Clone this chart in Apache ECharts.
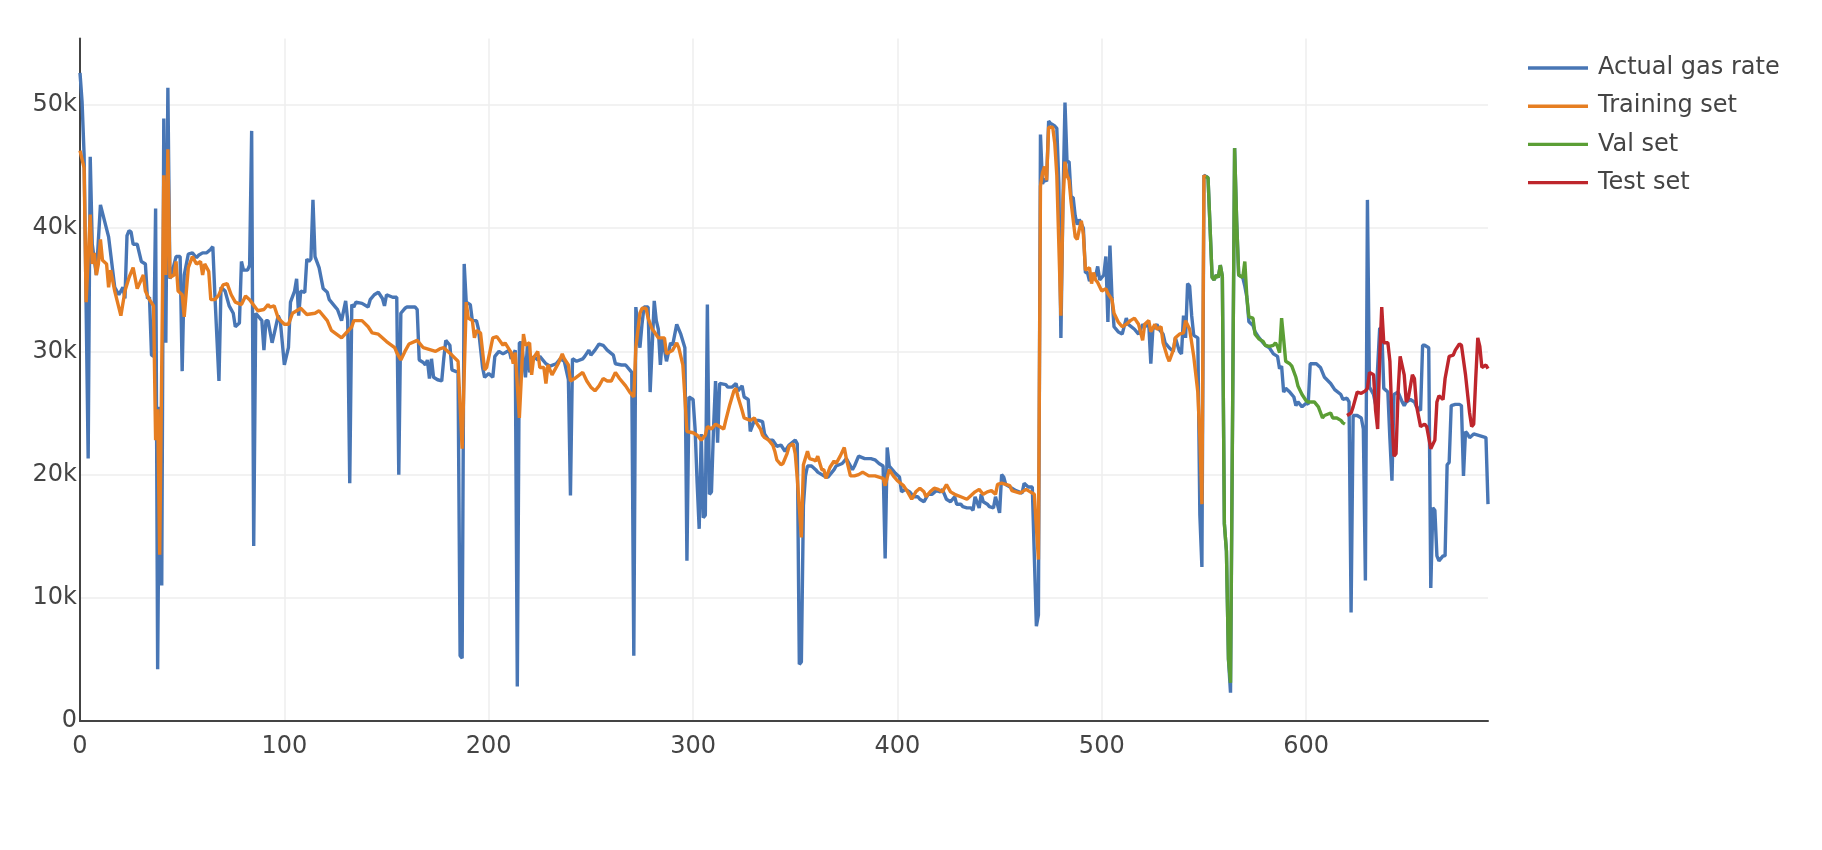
<!DOCTYPE html>
<html>
<head>
<meta charset="utf-8">
<script src="https://cdn.jsdelivr.net/npm/echarts@6/dist/echarts.min.js"></script>
<style>html,body{margin:0;padding:0;background:#fff;}#c{width:1822px;height:850px;}</style>
</head>
<body>
<div id="c"></div>
<script>
const seriesNames = ['Actual gas rate', 'Training set', 'Val set', 'Test set'];
const xTicks = [0, 100, 200, 300, 400, 500, 600];
const yTicks = [0, 10000, 20000, 30000, 40000, 50000];

const actualGas = [[0,52600],[1,50300],[2,46000],[4,21300],[5,45800],[6,38700],[8,36200],[10,41900],[14,39300],[17,35200],[19,34600],[21,35200],[22,34300],[23,39400],[24,39800],[25,39700],[26,38700],[28,38700],[30,37300],[32,37100],[33,34300],[34,34400],[35,29700],[36,29600],[37,41600],[38,4200],[39,25500],[40,11000],[41,48900],[42,30700],[43,51400],[44,35900],[45,36400],[47,37700],[49,37700],[50,28400],[51,36200],[53,37900],[55,38000],[57,37600],[58,37800],[60,38000],[62,38000],[64,38300],[65,38500],[66,34600],[68,27600],[69,35200],[71,34900],[73,33700],[75,33100],[76,32000],[78,32300],[79,37300],[80,36600],[82,36600],[83,37000],[84,47900],[85,14200],[86,33100],[89,32500],[90,30100],[91,32500],[92,32500],[94,30700],[95,31400],[97,32900],[98,32500],[100,28900],[102,30300],[103,34000],[105,34900],[106,35900],[107,32900],[108,34900],[110,34800],[111,37500],[112,37300],[113,37500],[114,42300],[115,37700],[117,36800],[119,35100],[121,34800],[122,34200],[123,34000],[125,33600],[126,33400],[128,32500],[130,34100],[131,32500],[132,19300],[133,33800],[134,33600],[135,34000],[138,33900],[141,33600],[142,34200],[144,34600],[146,34800],[148,34300],[149,33700],[150,34600],[153,34400],[155,34400],[156,20000],[157,33100],[159,33500],[160,33600],[164,33600],[165,33400],[166,29300],[168,29100],[169,28900],[170,29300],[171,27800],[172,29400],[173,27900],[175,27700],[177,27600],[178,29400],[179,30900],[181,30500],[182,28500],[185,28300],[186,5300],[187,5100],[188,37100],[189,34000],[191,33800],[192,32500],[194,32500],[195,31800],[197,28700],[198,27900],[200,28200],[202,27900],[203,29600],[205,30000],[207,29800],[210,30100],[211,29400],[213,30100],[214,2800],[215,30700],[216,30700],[218,27900],[219,30700],[220,28300],[222,29600],[224,29300],[225,29600],[228,29000],[230,28800],[233,29000],[235,29400],[237,29200],[239,27700],[240,18300],[241,29400],[243,29200],[246,29400],[247,29600],[249,30100],[250,29700],[252,30100],[254,30600],[256,30500],[258,30100],[261,29700],[262,29000],[265,28900],[267,28900],[269,28500],[270,28300],[271,5300],[272,33600],[274,30300],[275,32200],[276,33600],[278,33600],[279,26700],[281,34100],[282,32500],[283,31800],[284,28900],[285,31100],[287,29200],[289,30700],[290,30500],[292,32200],[294,31400],[296,30300],[297,13000],[298,26300],[300,26100],[301,23700],[302,19300],[303,15600],[304,23300],[305,16500],[306,16700],[307,33800],[308,18400],[309,18600],[310,23700],[311,27600],[312,22600],[313,27400],[316,27300],[317,27100],[319,27100],[321,27400],[322,26800],[324,27200],[325,26300],[327,26100],[328,23500],[330,24400],[332,24400],[334,24300],[335,23300],[337,22800],[339,22800],[341,22300],[343,22400],[345,21900],[347,22400],[350,22800],[351,22500],[352,4600],[353,4800],[354,17500],[355,19900],[356,20700],[358,20700],[360,20400],[361,20200],[363,20000],[365,19800],[366,19800],[369,20400],[370,20700],[373,20900],[375,21300],[378,20400],[379,20700],[381,21500],[384,21300],[387,21300],[389,21200],[391,20900],[393,20700],[394,13200],[395,22200],[396,20700],[398,20300],[399,20100],[401,19800],[402,18600],[404,18800],[406,18600],[408,18200],[410,18200],[411,18000],[413,17800],[415,18400],[417,18400],[419,18700],[421,18600],[422,18800],[424,18000],[426,17800],[428,18200],[429,17600],[431,17600],[432,17400],[434,17300],[436,17300],[437,17100],[438,18200],[440,17300],[441,18400],[442,17800],[444,17600],[445,17400],[447,17300],[448,18200],[450,16900],[451,20000],[452,19800],[453,19200],[456,18900],[458,18700],[461,18500],[462,19300],[464,19000],[466,19000],[468,7700],[469,8600],[470,47600],[471,43600],[472,44000],[473,43800],[474,48700],[475,48500],[477,48300],[478,48100],[479,43600],[480,31100],[481,42100],[482,50200],[483,45400],[484,45400],[485,42500],[486,42500],[487,41000],[488,40300],[489,40700],[491,40000],[492,36400],[493,36400],[494,35700],[495,36100],[497,36100],[498,36900],[499,35800],[501,36200],[502,37700],[503,32400],[504,38600],[505,34400],[506,32000],[508,31600],[510,31400],[512,32700],[513,32200],[516,31800],[518,31400],[520,32200],[521,32000],[523,32200],[524,29000],[525,31800],[527,32200],[528,31800],[530,31400],[531,30700],[533,30300],[535,30000],[536,31100],[538,30000],[539,29800],[540,32900],[541,31100],[542,35500],[543,35300],[544,32900],[545,31300],[547,31100],[548,16700],[549,12500],[550,44300],[551,44200],[552,44100],[554,36000],[555,35800],[556,36200],[557,36000],[558,37000],[559,36100],[560,16000],[561,13800],[562,5000],[563,2300],[565,46500],[566,40600],[567,36200],[569,36000],[570,35300],[571,34400],[572,32400],[574,32100],[575,31600],[577,31100],[579,30700],[580,30500],[582,30300],[584,29800],[586,29600],[587,28600],[588,28800],[589,26700],[590,27000],[592,26700],[594,26300],[595,25600],[596,25900],[598,25500],[600,25800],[601,25700],[602,29000],[605,29000],[607,28700],[609,27900],[612,27400],[614,26900],[617,26500],[618,26100],[620,26200],[621,25900],[622,8800],[623,24800],[625,24800],[627,24600],[628,23700],[629,11400],[630,42300],[631,27100],[633,26500],[634,25700],[635,28700],[636,31900],[637,31800],[638,27000],[640,26700],[641,22900],[642,19500],[643,26500],[645,26700],[647,25900],[648,25600],[649,25900],[651,26100],[653,25900],[654,25500],[656,25200],[657,30500],[658,30500],[660,30300],[661,10800],[662,17300],[663,17100],[664,13400],[665,13000],[667,13400],[668,13400],[669,20800],[670,21000],[671,25600],[673,25700],[675,25700],[676,25600],[677,19900],[678,23500],[679,23300],[680,23000],[682,23300],[684,23200],[686,23100],[688,23000],[689,17600]];

const trainingSet = [[0,46300],[2,44900],[3,34000],[5,41100],[6,37100],[7,38000],[8,36200],[9,37100],[10,39100],[11,37400],[13,37100],[14,35200],[15,36600],[17,34900],[20,32900],[22,34900],[24,36000],[26,36800],[28,35100],[31,36200],[32,34900],[34,34200],[36,33700],[37,22800],[38,25300],[39,13500],[41,44300],[42,36200],[43,46400],[44,36000],[46,36200],[47,37300],[48,34900],[50,34600],[51,32800],[53,36800],[55,37700],[57,37100],[59,37300],[60,36200],[61,37100],[63,36500],[64,34200],[66,34200],[68,34600],[70,35400],[72,35500],[74,34600],[76,34000],[79,33800],[81,34500],[83,34200],[87,33300],[90,33400],[92,33800],[93,33600],[95,33700],[97,32700],[100,32200],[102,32200],[104,33100],[108,33500],[111,33000],[115,33100],[117,33300],[121,32500],[123,31700],[128,31100],[133,32000],[134,32500],[138,32500],[141,32000],[143,31500],[146,31400],[150,30800],[154,30300],[155,29900],[157,29300],[159,30000],[161,30600],[165,30900],[168,30300],[172,30100],[174,30000],[176,30200],[178,30300],[180,30000],[182,29700],[185,29200],[187,22100],[189,34000],[190,32700],[192,32500],[193,31100],[194,31700],[196,31500],[198,28500],[199,28700],[202,31100],[204,31200],[207,30500],[208,30700],[211,29900],[212,29000],[213,29900],[215,24600],[217,31400],[218,30500],[220,30700],[221,28100],[222,29500],[224,30000],[225,28700],[227,28700],[228,27400],[229,28900],[231,28100],[233,28700],[234,29000],[236,29800],[237,29400],[239,28900],[240,27600],[242,27800],[246,28300],[248,27600],[250,27100],[252,26800],[254,27200],[256,27800],[258,27600],[260,27600],[262,28300],[264,27800],[267,27200],[269,26700],[271,26300],[272,30300],[274,33100],[275,33500],[277,33500],[278,32700],[280,31800],[281,31600],[283,31100],[286,31100],[287,29800],[290,30100],[292,30700],[293,30300],[295,28900],[296,26300],[297,23500],[300,23400],[302,23200],[304,22800],[306,23200],[307,23900],[309,23700],[311,24100],[313,23900],[315,23700],[316,24400],[318,25700],[320,26800],[321,27000],[322,26300],[324,25200],[325,24600],[328,24400],[330,24600],[331,24200],[333,23700],[334,23200],[335,23000],[337,22800],[339,22400],[340,21900],[341,21200],[343,20800],[344,20900],[346,21700],[347,22300],[349,22500],[350,21700],[351,19700],[353,14900],[354,20800],[356,21900],[357,21300],[359,21200],[360,21100],[361,21500],[363,20400],[364,20400],[365,19700],[367,20600],[369,21100],[370,20900],[372,21500],[374,22200],[375,21300],[377,19900],[379,19900],[381,20000],[383,20200],[386,19900],[389,19900],[393,19700],[394,19100],[396,20400],[398,19900],[400,19500],[403,19100],[405,18600],[407,18000],[409,18600],[411,18900],[413,18600],[414,18200],[416,18600],[418,18900],[420,18800],[422,18600],[424,19200],[426,18600],[428,18400],[431,18200],[434,18000],[436,18300],[438,18600],[440,18800],[442,18400],[444,18600],[446,18700],[448,18400],[449,19200],[451,19300],[453,19200],[455,19100],[456,18700],[458,18600],[460,18500],[463,18800],[465,18600],[467,18400],[469,13100],[470,43400],[471,44500],[472,45000],[473,43900],[474,48200],[476,48200],[477,46900],[478,44300],[480,32900],[481,42000],[482,45400],[483,44300],[484,43900],[485,42100],[487,39300],[488,39100],[489,39900],[490,40600],[491,39500],[492,36600],[494,36800],[495,35500],[496,36400],[497,35800],[498,35600],[500,34900],[502,35100],[503,34700],[505,34200],[506,33100],[508,32400],[510,32000],[512,32200],[514,32500],[516,32700],[518,32200],[520,30900],[521,32200],[523,32500],[524,31600],[526,32200],[527,31800],[529,32000],[530,30700],[532,29600],[533,29200],[535,30100],[536,31100],[538,31400],[540,31500],[541,32500],[543,31800],[544,30700],[545,29600],[547,26700],[548,23000],[549,17600],[550,44300],[551,44100]];

const valSet = [[551,44200],[552,44100],[554,36000],[555,35800],[556,36200],[557,36000],[558,37000],[559,36100],[560,16000],[561,13800],[562,5000],[563,3100],[565,46500],[566,40600],[567,36200],[569,36000],[570,37300],[571,34400],[572,32800],[574,32700],[575,31400],[577,31000],[579,30800],[580,30500],[582,30400],[584,30500],[585,30700],[586,30400],[587,29900],[588,32700],[589,31000],[590,29200],[592,29000],[593,28800],[595,27900],[596,27200],[598,26500],[600,26000],[601,25900],[604,25900],[606,25500],[608,24600],[609,24800],[612,25000],[613,24600],[615,24600],[617,24400],[618,24200],[619,24100]];

const testSet = [[620,24800],[622,25000],[623,25500],[625,26700],[627,26600],[629,26800],[630,27000],[631,28300],[633,28100],[634,25200],[635,23700],[636,29500],[637,33600],[638,30700],[640,30700],[641,29200],[642,24500],[643,21500],[644,21700],[645,26700],[646,29600],[648,28100],[649,25900],[650,26200],[652,28100],[653,27800],[654,25600],[656,23900],[658,24100],[659,23900],[661,22100],[663,22800],[664,25900],[665,26400],[667,26100],[668,27800],[670,29600],[672,29700],[673,30100],[675,30600],[676,30500],[678,28100],[680,25000],[681,23900],[682,24100],[683,27800],[684,31100],[685,30400],[686,28700],[688,28900],[689,28600]];

const colors = ['#4876b5', '#e67e22', '#5b9e35', '#be262c'];
const seriesData = [actualGas, trainingSet, valSet, testSet];

const chart = echarts.init(document.getElementById('c'), null, {renderer: 'canvas'});
const font = 'DejaVu Sans';
chart.setOption({
  animation: false,
  backgroundColor: '#ffffff',
  color: colors,
  grid: {left: 80, right: 334, top: 38.5, bottom: 129, containLabel: false},
  legend: {
    orient: 'vertical', left: 1528, top: 56, padding: 0,
    itemWidth: 60, itemHeight: 3.4, itemGap: 14.2, icon: 'rect',
    data: seriesNames,
    textStyle: {fontFamily: font, fontSize: 24, color: '#444', padding: [0, 0, 0, 5]}
  },
  xAxis: {
    type: 'value', min: 0, max: 689, interval: 100,
    axisLine: {show: true, onZero: false, lineStyle: {color: '#444', width: 2}},
    axisTick: {show: false},
    axisLabel: {fontFamily: font, fontSize: 24, color: '#444', margin: 14, showMaxLabel: false,
      formatter: v => xTicks.includes(v) ? String(v) : ''},
    splitLine: {show: true, showMinLine: false, showMaxLine: false, lineStyle: {color: '#eeeeee', width: 1.5}}
  },
  yAxis: {
    type: 'value', min: 0, max: 55400, interval: 10000,
    axisLine: {show: true, onZero: false, lineStyle: {color: '#444', width: 2}},
    axisTick: {show: false},
    axisLabel: {fontFamily: font, fontSize: 24, color: '#444', margin: 3, showMaxLabel: false,
      padding: [5, 0, 0, 0],
      formatter: v => yTicks.includes(v) ? (v === 0 ? '0' : (v / 1000) + 'k') : ''},
    splitLine: {show: true, showMinLine: false, showMaxLine: false, lineStyle: {color: '#eeeeee', width: 1.5}}
  },
  series: seriesNames.map((name, i) => ({
    name: name, type: 'line', data: seriesData[i],
    showSymbol: false, symbol: 'none',
    lineStyle: {width: 3.4, color: colors[i]},
    itemStyle: {color: colors[i]},
    z: 2 + i
  }))
});
</script>
</body>
</html>
